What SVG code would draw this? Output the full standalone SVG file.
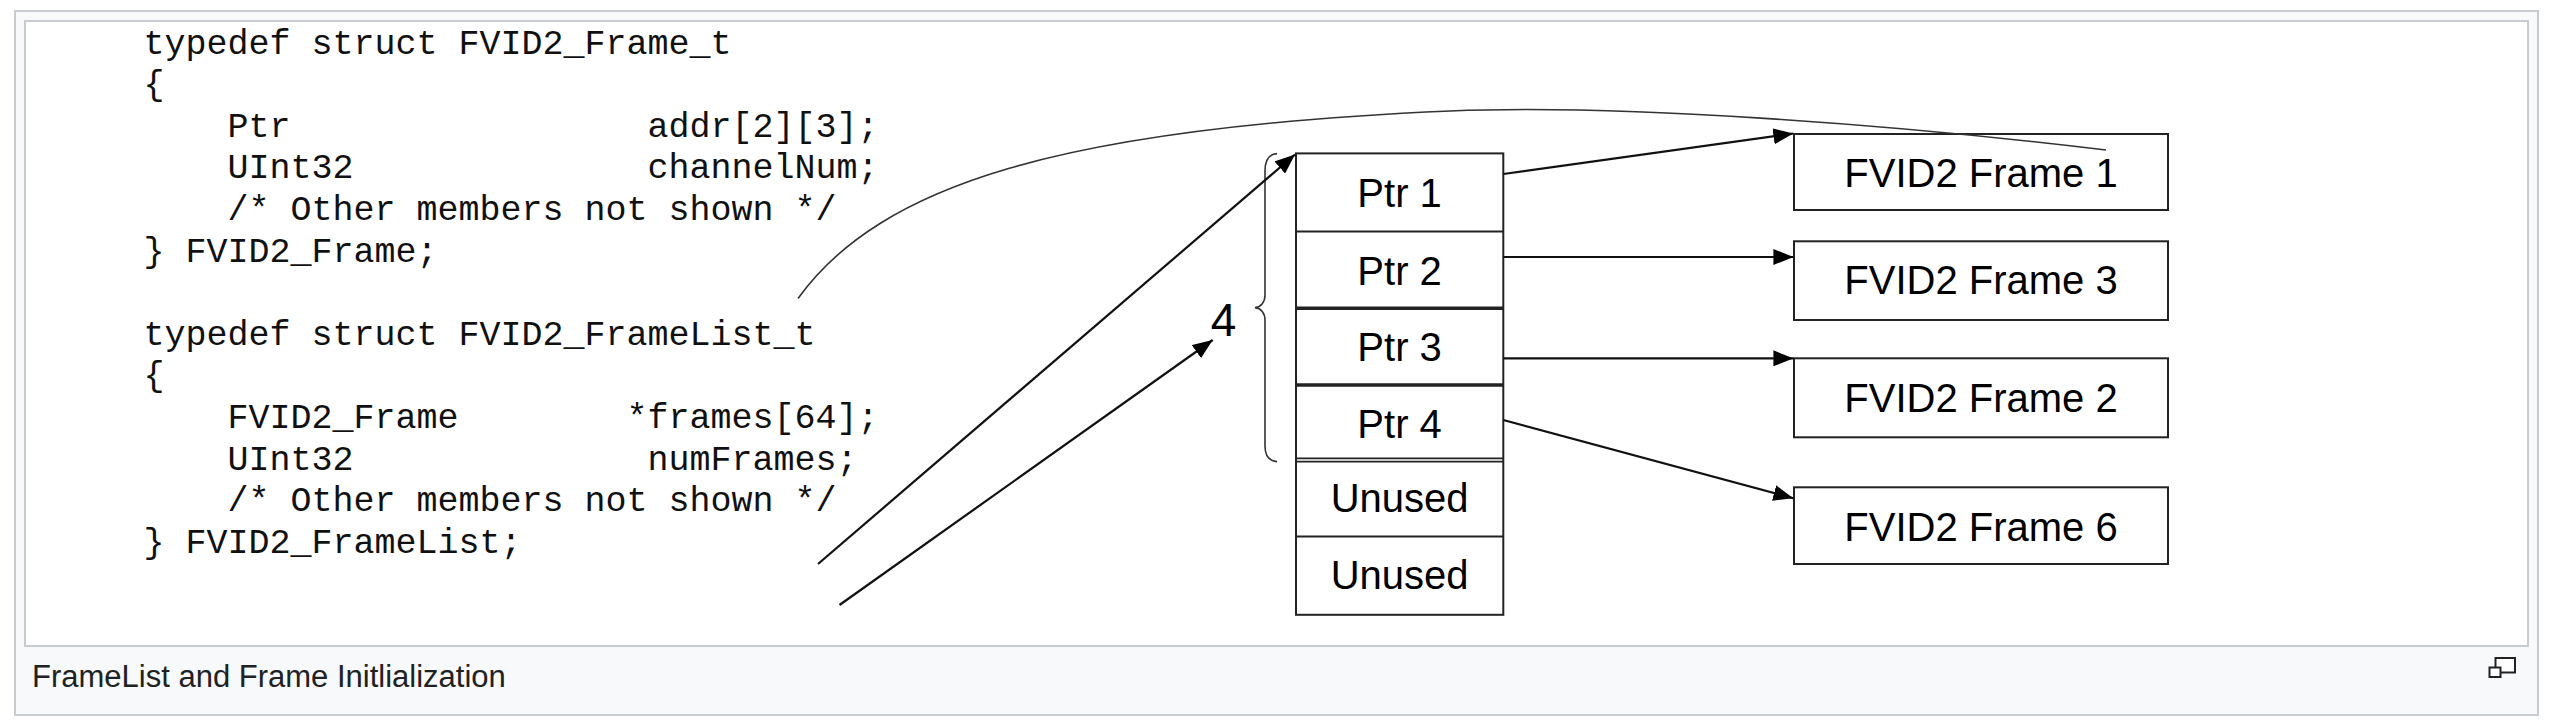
<svg xmlns="http://www.w3.org/2000/svg" width="2551" height="724" viewBox="0 0 2551 724">
<style>
.outer{fill:#f8f9fa;stroke:#c8ccd1;stroke-width:2}
.img{fill:#fff;stroke:#c8ccd1;stroke-width:2}
.code{font-family:"Liberation Mono","Courier New",monospace;font-size:35px;fill:#111}
.lbl{font-family:"Liberation Sans",Arial,sans-serif;font-size:40px;fill:#000;text-anchor:middle}
.box{fill:#fff;stroke:#222;stroke-width:2}
.div{stroke:#222;fill:none}
.conn{stroke:#111;stroke-width:2.2;fill:none}
.thin{stroke:#333;stroke-width:1.6;fill:none}
.cap{font-family:"Liberation Sans",Arial,sans-serif;font-size:31px;fill:#202122}
</style>
<defs>
<marker id="ah" markerUnits="userSpaceOnUse" markerWidth="20" markerHeight="16" refX="20" refY="8" orient="auto">
<path d="M0,0 L20,8 L0,16 Z" fill="#000"/>
</marker>
</defs>
<g id="figure">
<rect class="outer" x="15" y="11" width="2523" height="704"/>
<rect class="img" x="25" y="21" width="2503" height="625"/>
</g>
<g id="code">
<text class="code" x="143.5" y="53.6">typedef struct FVID2_Frame_t</text>
<text class="code" x="143.5" y="95.2">{</text>
<text class="code" x="227.5" y="136.8">Ptr</text>
<text class="code" x="647.5" y="136.8">addr[2][3];</text>
<text class="code" x="227.5" y="178.4">UInt32</text>
<text class="code" x="647.5" y="178.4">channelNum;</text>
<text class="code" x="227.5" y="220">/* Other members not shown */</text>
<text class="code" x="143.5" y="261.6">} FVID2_Frame;</text>
<text class="code" x="143.5" y="344.8">typedef struct FVID2_FrameList_t</text>
<text class="code" x="143.5" y="386.4">{</text>
<text class="code" x="227.5" y="428">FVID2_Frame</text>
<text class="code" x="626.5" y="428">*frames[64];</text>
<text class="code" x="227.5" y="469.6">UInt32</text>
<text class="code" x="647.5" y="469.6">numFrames;</text>
<text class="code" x="227.5" y="511.2">/* Other members not shown */</text>
<text class="code" x="143.5" y="552.8">} FVID2_FrameList;</text>
</g>
<g id="framelist">
<rect class="box" x="1296" y="153.4" width="207.3" height="461.4"/>
<line class="div" stroke-width="2" x1="1296" y1="231.5" x2="1503.3" y2="231.5"/>
<line class="div" stroke-width="3.5" x1="1296" y1="308.3" x2="1503.3" y2="308.3"/>
<line class="div" stroke-width="3.5" x1="1296" y1="385" x2="1503.3" y2="385"/>
<line class="div" stroke-width="1.8" x1="1296" y1="458.3" x2="1503.3" y2="458.3"/>
<line class="div" stroke-width="1.8" x1="1296" y1="461.7" x2="1503.3" y2="461.7"/>
<line class="div" stroke-width="2" x1="1296" y1="536.6" x2="1503.3" y2="536.6"/>
<text class="lbl" x="1399.6" y="207.4">Ptr 1</text>
<text class="lbl" x="1399.6" y="285.3">Ptr 2</text>
<text class="lbl" x="1399.6" y="361">Ptr 3</text>
<text class="lbl" x="1399.6" y="437.5">Ptr 4</text>
<text class="lbl" x="1399.6" y="511.5">Unused</text>
<text class="lbl" x="1399.6" y="589">Unused</text>
</g>
<g id="count">
<path class="thin" d="M1277,153.6 C1269,154 1265,160 1265,171 L1265,295 C1265,302 1261,307 1255,307.6 C1261,308.2 1265,313 1265,320 L1265,446 C1265,456 1269,461 1277,461.6"/>
<text class="lbl" x="1223.5" y="335.9" style="font-size:46px">4</text>
</g>
<g id="frame1">
<rect class="box" x="1794" y="134" width="374" height="76"/>
<text class="lbl" x="1981" y="187.3">FVID2 Frame 1</text>
</g>
<g id="frame3">
<rect class="box" x="1794" y="241.3" width="374" height="78.7"/>
<text class="lbl" x="1981" y="294">FVID2 Frame 3</text>
</g>
<g id="frame2">
<rect class="box" x="1794" y="358.3" width="374" height="79"/>
<text class="lbl" x="1981" y="411.7">FVID2 Frame 2</text>
</g>
<g id="frame6">
<rect class="box" x="1794" y="487.3" width="374" height="76.7"/>
<text class="lbl" x="1981" y="540.7">FVID2 Frame 6</text>
</g>
<g id="connectors">
<path class="thin" d="M798,298.5 C880,185 1060,128 1450,111 C1620,103.6 1900,125 2106,150"/>
<line class="conn" x1="818" y1="564" x2="1295" y2="154.5" marker-end="url(#ah)"/>
<line class="conn" x1="839.5" y1="605" x2="1212.7" y2="340" marker-end="url(#ah)"/>
<line class="conn" x1="1503.3" y1="174" x2="1793.4" y2="133.5" marker-end="url(#ah)"/>
<line class="conn" x1="1503.3" y1="257" x2="1793.4" y2="257" marker-end="url(#ah)"/>
<line class="conn" x1="1503.3" y1="358.3" x2="1793.4" y2="358.3" marker-end="url(#ah)"/>
<line class="conn" x1="1503.3" y1="420" x2="1793.4" y2="498.3" marker-end="url(#ah)"/>
</g>
<g id="caption">
<text class="cap" x="32" y="686.7">FrameList and Frame Initlialization</text>
<g id="enlarge-icon">
<rect x="2495.5" y="658" width="19.5" height="14.5" fill="#fff" stroke="#222" stroke-width="2"/>
<rect x="2489.5" y="667.5" width="11" height="9.5" fill="#fff" stroke="#222" stroke-width="2"/>
</g>
</g>
</svg>
